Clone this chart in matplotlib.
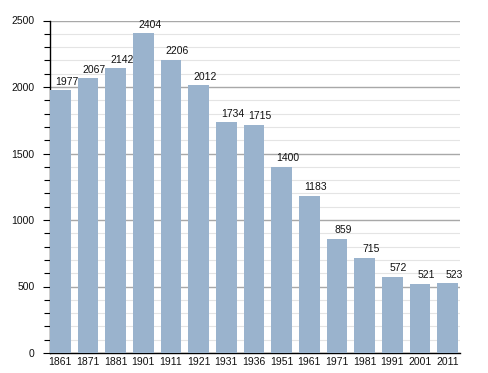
import matplotlib.pyplot as plt
from matplotlib.ticker import MultipleLocator

# Data
years = ['1861', '1871', '1881', '1901', '1911', '1921', '1931', '1936',
         '1951', '1961', '1971', '1981', '1991', '2001', '2011']
population = [1977, 2067, 2142, 2404, 2206, 2012, 1734, 1715,
              1400, 1183, 859, 715, 572, 521, 523]

plt.rcParams['font.family'] = ['Liberation Sans', 'DejaVu Sans']

fig = plt.figure(figsize=(4.88, 3.73), dpi=100)
ax = fig.add_axes([50 / 488, 20 / 373, 410 / 488, 332.5 / 373])

x = range(len(years))
bars = ax.bar(x, population, width=0.75, color='#9ab3cd', zorder=3)

# value labels sit a little right of the bar centre, like the original
for xi, v in zip(x, population):
    ax.annotate(str(v), (xi, v), xytext=(4.5, 2.5), textcoords='offset points',
                ha='center', va='bottom', fontsize=7.5, color='#111111', zorder=4)

ax.set_xlim(-0.375, 14.45)
ax.set_ylim(0, 2500)
ax.set_xticks(list(x))
ax.set_xticklabels(years)
ax.yaxis.set_major_locator(MultipleLocator(500))
ax.yaxis.set_minor_locator(MultipleLocator(100))

ax.grid(axis='y', which='major', color='#a8a8a8', linewidth=1.0, zorder=1)
ax.grid(axis='y', which='minor', color='#e4e4e4', linewidth=0.8, zorder=0)

for s in ['top', 'right']:
    ax.spines[s].set_visible(False)
ax.spines['left'].set_linewidth(1.0)
ax.spines['bottom'].set_linewidth(1.0)

ax.tick_params(axis='y', which='major', length=5, width=0.8, labelsize=7.5, pad=6,
               labelcolor='#111111')
ax.tick_params(axis='y', which='minor', length=4, width=0.8)
ax.tick_params(axis='x', length=0, labelsize=7.5, pad=3, labelcolor='#111111')

fig.savefig('out.png', dpi=100)
